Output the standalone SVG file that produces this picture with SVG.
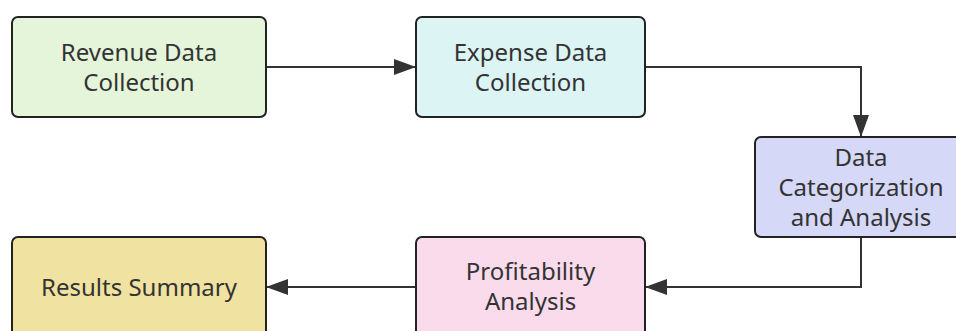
<svg xmlns="http://www.w3.org/2000/svg" width="956" height="331" viewBox="0 0 956 331">
<defs>
<marker id="arr" markerWidth="22" markerHeight="16" refX="22" refY="8" orient="auto" markerUnits="userSpaceOnUse">
<path d="M0,0 L22,8 L0,16 Z" fill="#333"/>
</marker>
<style>
.n{stroke:#222;stroke-width:2}
.t{font-family:"Noto Sans","Open Sans",sans-serif;font-size:24px;fill:#333;text-anchor:middle}
.e{fill:none;stroke:#333;stroke-width:2}
</style>
</defs>
<rect width="956" height="331" fill="#fff"/>
<g id="connectors">
<path class="e" d="M266,67 L416,67" marker-end="url(#arr)"/>
<path class="e" d="M645,67 L861,67 L861,137" marker-end="url(#arr)"/>
<path class="e" d="M861,237 L861,287 L645,287" marker-end="url(#arr)"/>
<path class="e" d="M416,287 L266,287" marker-end="url(#arr)"/>
</g>
<g id="revenue">
<rect class="n" x="12" y="17" width="254" height="100" rx="6" fill="#e5f5da"/>
<text class="t" x="139" y="61">Revenue Data</text>
<text class="t" x="139" y="91">Collection</text>
</g>
<g id="expense">
<rect class="n" x="416" y="17" width="229" height="100" rx="6" fill="#dcf4f4"/>
<text class="t" x="530.5" y="61">Expense Data</text>
<text class="t" x="530.5" y="91">Collection</text>
</g>
<g id="categorization">
<rect class="n" x="755" y="137" width="212" height="100" rx="6" fill="#d5d8f7"/>
<text class="t" x="861" y="166">Data</text>
<text class="t" x="861" y="196">Categorization</text>
<text class="t" x="861" y="226">and Analysis</text>
</g>
<g id="profitability">
<rect class="n" x="416" y="237" width="229" height="100" rx="6" fill="#fadbeb"/>
<text class="t" x="530.5" y="280">Profitability</text>
<text class="t" x="530.5" y="310">Analysis</text>
</g>
<g id="results">
<rect class="n" x="12" y="237" width="254" height="100" rx="6" fill="#f0e2a0"/>
<text class="t" x="139" y="296">Results Summary</text>
</g>
</svg>
